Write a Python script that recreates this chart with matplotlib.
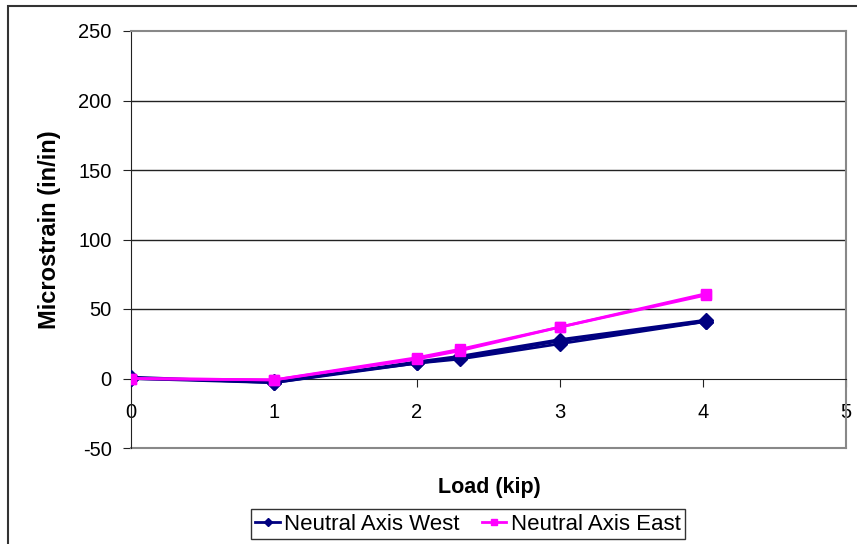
import matplotlib
matplotlib.use("Agg")
import matplotlib.pyplot as plt
from matplotlib.patches import Rectangle

plt.rcParams['font.family'] = ['Liberation Sans', 'DejaVu Sans']
plt.rcParams['axes.unicode_minus'] = False

# load steps (kip)
load = [0, 1, 2, 2.3, 3, 4.02]
# Neutral Axis West, several passes
west_runs = [
    [1, -3, 12, 16, 28, 42],
    [0, -3, 11, 15, 27, 41],
    [0, -2, 11, 14, 25, 41],
]
# Neutral Axis East, several passes
east_runs = [
    [0, -1, 15, 21, 37, 61],
    [0, -1, 14, 20, 37, 60],
]
y_ticks = [-50, 0, 50, 100, 150, 200, 250]
x_ticks = [0, 1, 2, 3, 4, 5]

fig = plt.figure(figsize=(8.57, 5.44), dpi=100)
W, H = 857, 544
ax = fig.add_axes([131 / W, (H - 448) / H, (846 - 131) / W, (448 - 31) / H])

navy = '#000080'
mag = '#FF00FF'
for i, w in enumerate(west_runs):
    ax.plot(load, w, color=navy, lw=2, marker='D', ms=7, mec=navy,
            label='Neutral Axis West' if i == 0 else None, zorder=3)
for i, e in enumerate(east_runs):
    ax.plot(load, e, color=mag, lw=2, marker='s', ms=7, mec=mag,
            label='Neutral Axis East' if i == 0 else None, zorder=4)

ax.set_xlim(0, 5)
ax.set_ylim(-50, 250)
ax.set_yticks(y_ticks)
ax.set_xticks(x_ticks)
for v in y_ticks[2:-1]:
    ax.axhline(v, color='#222222', lw=1, zorder=1)

ax.spines['bottom'].set_position(('data', 0))
ax.spines['bottom'].set_color('#222222')
ax.spines['left'].set_color('#222222')
ax.spines['top'].set_color('#888888')
ax.spines['right'].set_color('#888888')
ax.spines['top'].set_linewidth(1.5)
ax.spines['right'].set_linewidth(1.5)
ax.axhline(-50, color='#888888', lw=1.5, clip_on=False, zorder=2)

ax.tick_params(axis='both', direction='out', length=6, color='#222222',
               labelsize=14.5)
ax.tick_params(axis='x', pad=12)
ax.tick_params(axis='y', pad=8)

ax.set_ylabel('Microstrain (in/in)', fontsize=17, fontweight='bold')
ax.yaxis.set_label_coords((50 - 131) / 715, (448 - 230) / 417)
ax.yaxis.label.set_verticalalignment('center')
ax.set_xlabel('Load (kip)', fontsize=15.5, fontweight='bold')
ax.xaxis.set_label_coords((489 - 131) / 715, (448 - 487) / 417)
ax.xaxis.label.set_verticalalignment('center')

leg = fig.legend(loc='center', bbox_to_anchor=(468 / W, 1 - 524 / H), ncol=2,
                 fontsize=16, frameon=True, fancybox=False, edgecolor='black',
                 handlelength=1.1, handletextpad=0.2, columnspacing=1.0,
                 borderpad=0.2, borderaxespad=0, markerscale=0.6)
leg.get_frame().set_linewidth(1)

fig.patches.append(Rectangle((8 / W, -0.1), 1.2, (H - 6) / H + 0.1,
                             transform=fig.transFigure, fill=False,
                             edgecolor='#333333', lw=1.5))

fig.savefig('out.png', dpi=100)
